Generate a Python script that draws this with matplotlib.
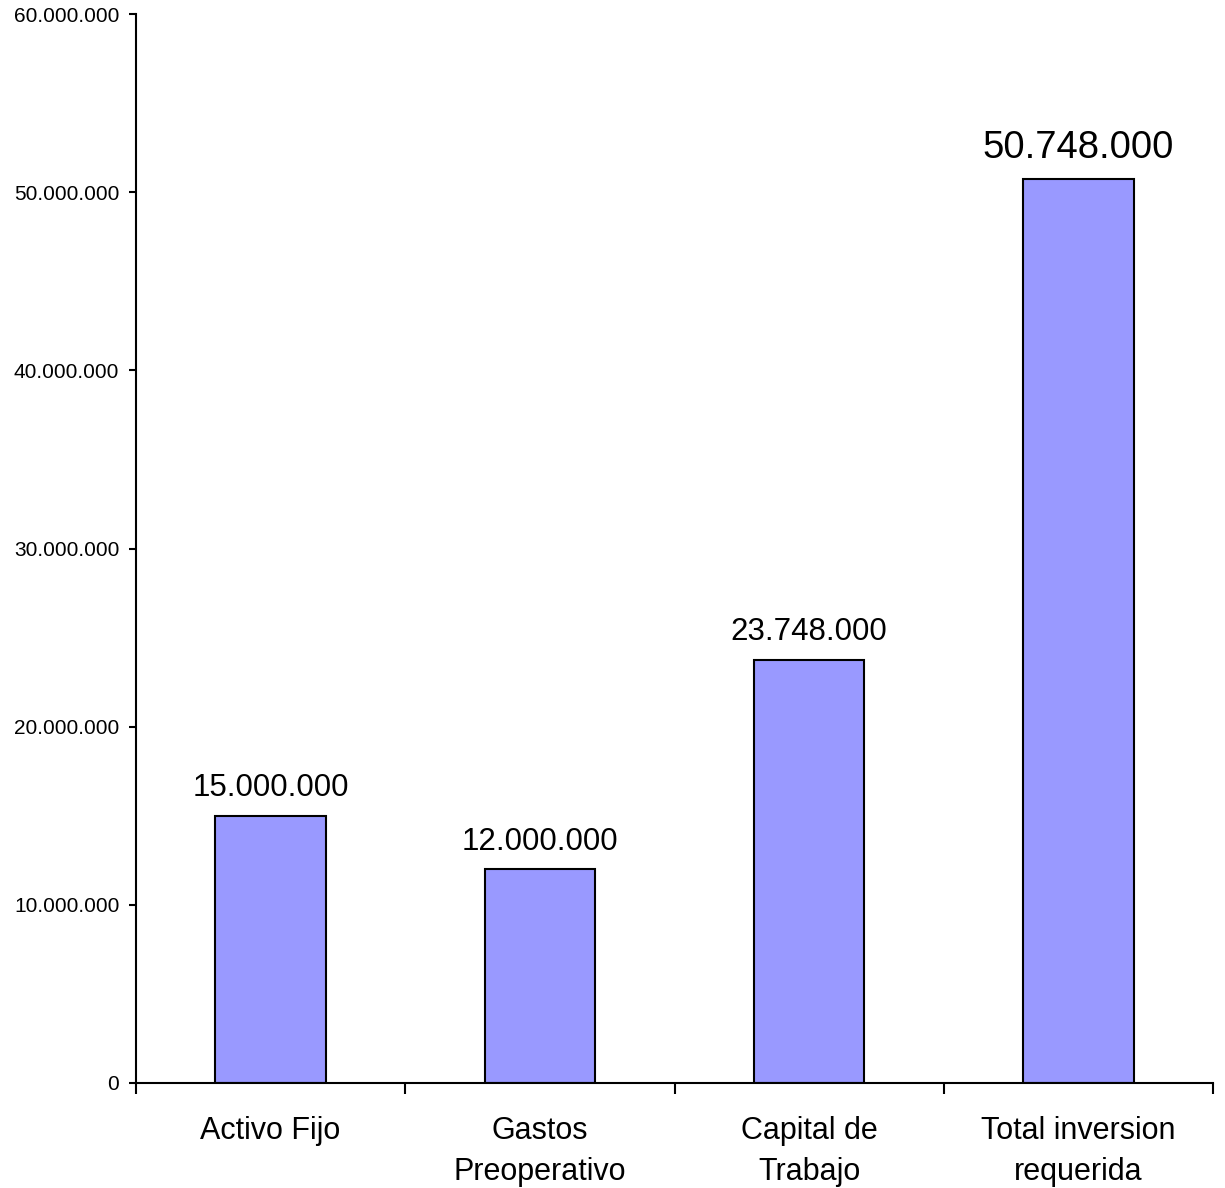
import matplotlib
matplotlib.use("Agg")
import matplotlib.pyplot as plt
from matplotlib.ticker import FuncFormatter, FixedLocator

categories = ["Activo Fijo", "Gastos\nPreoperativo", "Capital de\nTrabajo", "Total inversion\nrequerida"]
values = [15000000, 12000000, 23748000, 50748000]
label_sizes = [22.5, 22.5, 22.5, 27.5]

plt.rcParams['font.family'] = ['Liberation Sans', 'DejaVu Sans']

fig = plt.figure(figsize=(12.25, 11.88), dpi=100)
ax = fig.add_axes([136/1225, 105/1188, (1213-136)/1225, (1083-14)/1188])

x = list(range(len(categories)))
bars = ax.bar(x, values, width=0.41, color="#9999FF", edgecolor="black", linewidth=1.5, zorder=2)

for xi, v, fs in zip(x, values, label_sizes):
    ax.annotate(f"{v:,}".replace(",", "."), (xi, v), xytext=(0, 9), textcoords="offset points",
                ha="center", va="bottom", fontsize=fs)

ax.set_xlim(-0.5, len(categories) - 0.5)
ax.set_ylim(0, 60000000)
ax.yaxis.set_major_locator(FixedLocator([i * 10000000 for i in range(7)]))
ax.yaxis.set_major_formatter(FuncFormatter(lambda v, p: f"{int(v):,}".replace(",", ".")))
ax.tick_params(axis='y', direction='out', length=5, width=1.5, labelsize=15, pad=7)

ax.set_xticks([i - 0.5 for i in range(len(categories) + 1)])
ax.set_xticklabels([])
ax.set_xticks(x, minor=True)
ax.set_xticklabels(categories, minor=True, fontsize=22, linespacing=1.45)
ax.tick_params(axis='x', which='major', direction='out', length=8, width=1.5)
ax.tick_params(axis='x', which='minor', length=0, pad=24)

for s in ['top', 'right']:
    ax.spines[s].set_visible(False)
for s in ['left', 'bottom']:
    ax.spines[s].set_linewidth(1.5)

fig.savefig("out.png", dpi=100)
